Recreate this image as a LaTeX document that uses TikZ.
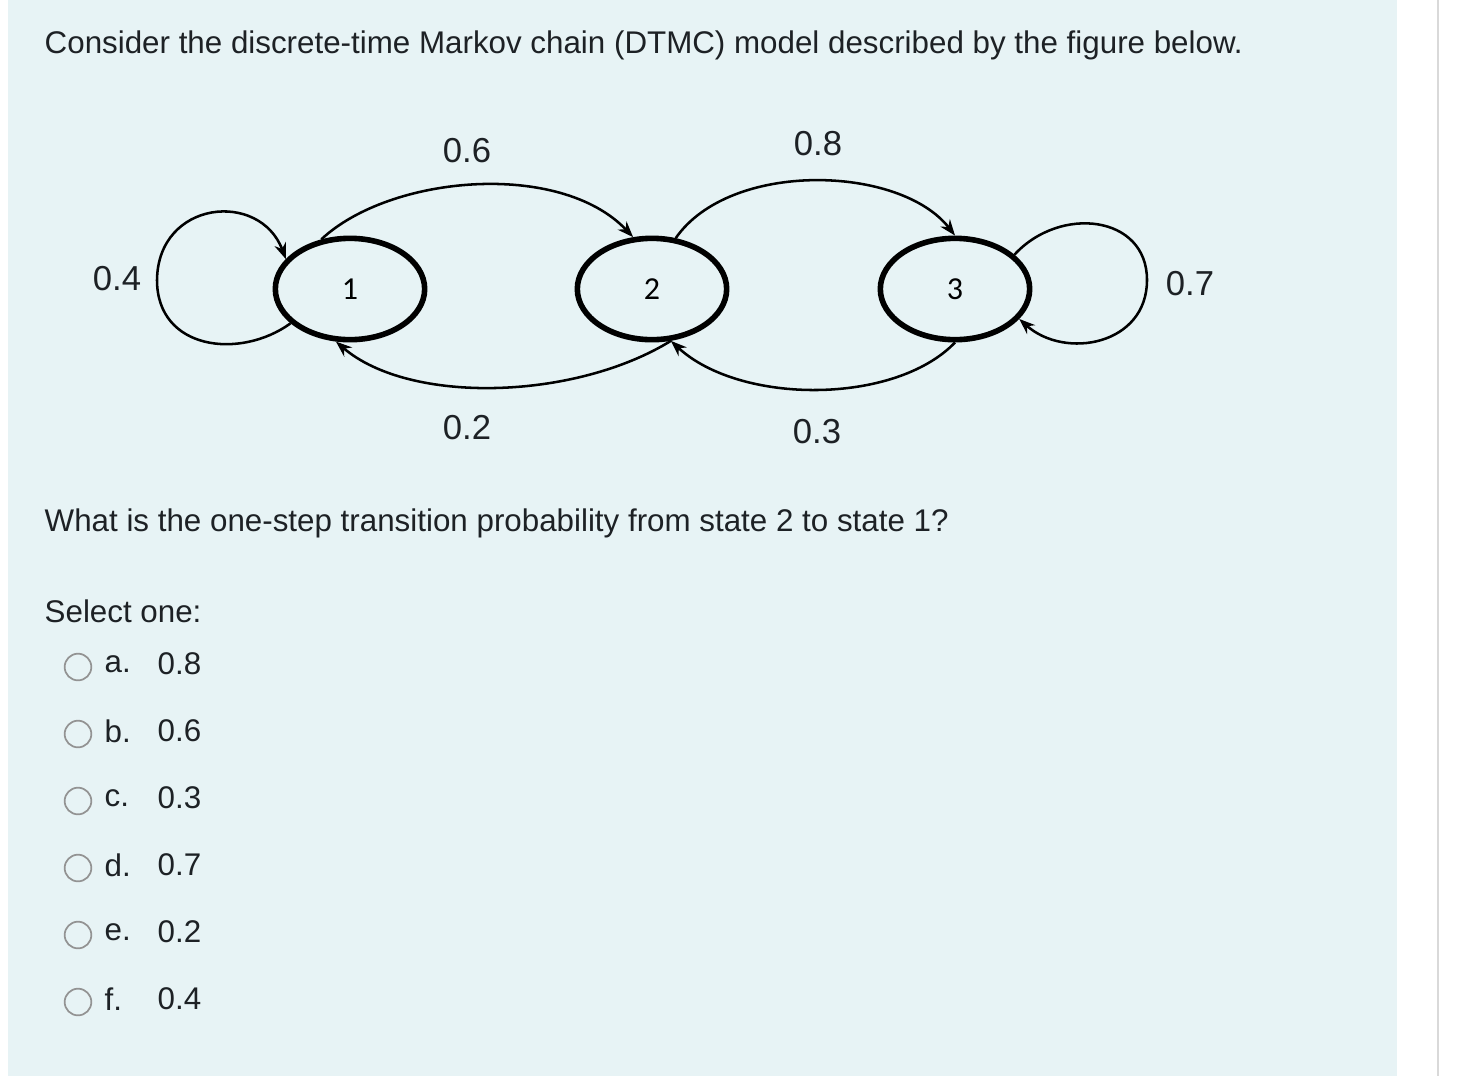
\documentclass[tikz,border=0pt]{standalone}
\usepackage{fontspec}
\setmainfont{Liberation Sans}
\newfontfamily\numfont{Carlito}
\usetikzlibrary{arrows.meta,shapes.geometric}
\definecolor{bgc}{HTML}{E7F3F5}
\definecolor{txt}{HTML}{1D2125}
\begin{document}
\begin{tikzpicture}[x=0.75pt,y=-0.75pt,
  st/.style={draw=black,line width=4.2pt,ellipse,minimum width=112pt,minimum height=76pt,inner sep=0pt,font=\numfont\fontsize{24}{24}\selectfont},
  tr/.style={draw=black,line width=1.9pt,-{Stealth[length=12pt,width=9pt]}},
  lb/.style={font=\fontsize{26}{26}\selectfont,text=txt},
  qt/.style={font=\fontsize{23.5}{24}\selectfont,text=txt,anchor=west},
  rb/.style={draw=gray!85,line width=1.3pt,circle,minimum size=20pt,inner sep=0pt}]
\useasboundingbox (0,0) rectangle (1470,1076);
\fill[bgc] (8,0) rectangle (1397,1076);
\draw[gray!30,line width=1.5pt] (1438,0) -- (1438,1076);
\node[qt] (q1) at (40,45) {Consider the discrete-time Markov chain (DTMC) model described by the figure below.};
\node[st] (n1) at (350,289) {1};
\node[st] (n2) at (652,289) {2};
\node[st] (n3) at (955,289) {3};
\draw[tr] (n1.120) .. controls (390,175) and (560,160) .. (n2.110);
\draw[tr] (n2.65) .. controls (730,160) and (900,165) .. (n3.90);
\draw[tr] (n2.-70) .. controls (575,400) and (410,405) .. (n1.-105);
\draw[tr] (n3.-90) .. controls (895,405) and (740,405) .. (n2.-70);
\draw[tr] (n1.-150) .. controls (240,360) and (157,350) .. (157,280) .. controls (158,200) and (260,190) .. (n1.155);
\draw[tr] (n3.30) .. controls (1060,205) and (1147,215) .. (1147,280) .. controls (1147,345) and (1065,360) .. (n3.-25);
\node[lb] (l06) at (467,151) {0.6};
\node[lb] (l08) at (818,144) {0.8};
\node[lb] (l04) at (117,279) {0.4};
\node[lb] (l07) at (1190,284) {0.7};
\node[lb] (l02) at (467,428) {0.2};
\node[lb] (l03) at (817,432) {0.3};
\node[qt] (q2) at (40,523) {What is the one-step transition probability from state 2 to state 1?};
\node[qt] (q3) at (40,611) {Select one:};
\foreach \y/\l/\v [count=\i] in {665/a./0.8,732/b./0.6,799/c./0.3,866/d./0.7,933/e./0.2,1000/f./0.4}{
  \node[rb] (r\i) at (78,\y+2) {};
  \node[qt] (o\i) at (100,\y-1) {\l};
  \node[qt] (v\i) at (153,\y-1) {\v};
}
\end{tikzpicture}
\end{document}
